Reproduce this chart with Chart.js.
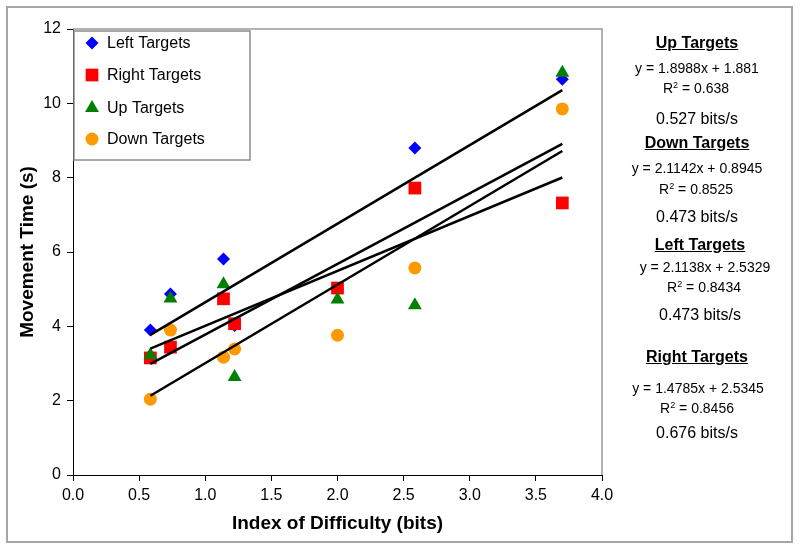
<!DOCTYPE html>
<html>
<head>
<meta charset="utf-8">
<script src="https://cdn.jsdelivr.net/npm/chart.js@4.4.0/dist/chart.umd.min.js"></script>
<style>
body { margin: 0; background: #fff; font-family: 'Liberation Sans', Arial, sans-serif; }
#wrap { position: relative; width: 800px; height: 549px; }
#frame { position: absolute; left: 6px; top: 6px; width: 787px; height: 537px; border: 2px solid #a6a6a6; box-sizing: border-box; pointer-events: none; }
.note { position: absolute; width: 200px; text-align: center; color: #000; white-space: nowrap; line-height: 1; }
.ttl { font-size: 16px; font-weight: bold; text-decoration: underline; }
.eq { font-size: 14px; }
.rate { font-size: 16px; }
sup { font-size: 9px; vertical-align: 5px; line-height: 0; }
</style>
</head>
<body>
<div id="wrap">
  <canvas id="myChart" width="800" height="549"></canvas>
  <div id="frame"></div>
</div>
<script>
// index of difficulty (bits) for the 7 conditions
const idBits = [0.585, 0.737, 1.138, 1.222, 2.0, 2.585, 3.70];

const leftTimes  = [3.90, 4.87, 5.81, 4.02, 5.00, 8.80, 10.65];
const rightTimes = [3.15, 3.44, 4.74, 4.07, 5.03, 7.72, 7.32];
const upTimes    = [3.23, 4.75, 5.13, 2.64, 4.72, 4.57, 10.82];
const downTimes  = [2.04, 3.90, 3.17, 3.39, 3.76, 5.57, 9.85];

const xTicks = [0, 0.5, 1, 1.5, 2, 2.5, 3, 3.5, 4];
const yTicks = [0, 2, 4, 6, 8, 10, 12];

// fit results shown on the right
const fitNames   = ['Up Targets', 'Down Targets', 'Left Targets', 'Right Targets'];
const slopes     = [1.8988, 2.1142, 2.1138, 1.4785];
const intercepts = ['1.881', '0.8945', '2.5329', '2.5345'];
const rSquared   = ['0.638', '0.8525', '0.8434', '0.8456'];
const rates      = ['0.527', '0.473', '0.473', '0.676'];

const fitX = [0.585, 3.70];

// where each text block sits (centre x, line centres y)
const noteLayout = [
  { cx: 697, eqx: 697, y: [43, 68, 88, 119] },
  { cx: 697, eqx: 697, y: [143, 168, 189, 217] },
  { cx: 700, eqx: 705, y: [245, 267, 287, 315] },
  { cx: 697, eqx: 698, y: [357, 388, 408, 433] }
];

const wrap = document.getElementById('wrap');
function addNote(cls, html, cx, cy, h) {
  const d = document.createElement('div');
  d.className = 'note ' + cls;
  d.innerHTML = html;
  d.style.left = (cx - 100) + 'px';
  d.style.top = (cy - h / 2) + 'px';
  wrap.appendChild(d);
}
fitNames.forEach((name, i) => {
  const L = noteLayout[i];
  addNote('ttl', name, L.cx, L.y[0], 16);
  addNote('eq', 'y = ' + slopes[i] + 'x + ' + intercepts[i], L.eqx, L.y[1], 14);
  addNote('eq', 'R<sup>2</sup> = ' + rSquared[i], L.eqx - 1, L.y[2], 14);
  addNote('rate', rates[i] + ' bits/s', L.cx, L.y[3], 16);
});

function pts(ys) { return idBits.map((x, i) => ({ x: x, y: ys[i] })); }
function fitLine(i) {
  const b = parseFloat(intercepts[i]);
  return fitX.map(x => ({ x: x, y: slopes[i] * x + b }));
}

const series = [
  { label: 'Left Targets',  data: pts(leftTimes),  color: '#0000ff', style: 'rectRot',  r: 6.5, order: 4 },
  { label: 'Right Targets', data: pts(rightTimes), color: '#ff0000', style: 'rect',     r: 9,   order: 3 },
  { label: 'Up Targets',    data: pts(upTimes),    color: '#008000', style: 'triangle', r: 8,   order: 2 },
  { label: 'Down Targets',  data: pts(downTimes),  color: '#ff9900', style: 'circle',   r: 6.5, order: 1 }
];

const datasets = series.map(s => ({
  label: s.label,
  data: s.data,
  showLine: false,
  pointStyle: s.style,
  pointRadius: s.r,
  pointHoverRadius: s.r,
  pointBackgroundColor: s.color,
  pointBorderColor: s.color,
  pointBorderWidth: 0,
  order: s.order
}));

// trend lines (Up, Down, Left, Right)
[0, 1, 2, 3].forEach(i => {
  datasets.push({
    label: 'fit ' + fitNames[i],
    data: fitLine(i),
    showLine: true,
    borderColor: '#000',
    borderWidth: 2.5,
    pointRadius: 0,
    order: 0
  });
});

const framePlugin = {
  id: 'framePlugin',
  beforeDatasetsDraw(chart) {
    const a = chart.chartArea, c = chart.ctx;
    c.save();
    c.strokeStyle = '#9a9a9a';
    c.lineWidth = 1.5;
    c.beginPath();
    c.moveTo(a.left, a.top);
    c.lineTo(a.right, a.top);
    c.lineTo(a.right, a.bottom);
    c.stroke();
    c.restore();
  },
  afterDraw(chart) {
    const c = chart.ctx;
    c.save();
    c.fillStyle = '#fff';
    c.fillRect(74, 31, 176, 129);
    c.strokeStyle = '#8c8c8c';
    c.lineWidth = 1.5;
    c.strokeRect(74, 31, 176, 129);
    c.font = '16px "Liberation Sans", Arial, sans-serif';
    c.textBaseline = 'middle';
    const rows = [43, 75, 108, 139];
    series.forEach((s, i) => {
      c.fillStyle = s.color;
      c.strokeStyle = s.color;
      Chart.helpers.drawPoint(c, { pointStyle: s.style, radius: s.r, borderWidth: 0 }, 92, rows[i]);
      c.fillStyle = '#000';
      c.fillText(s.label, 107, rows[i] + 1);
    });
    c.restore();
  }
};

new Chart(document.getElementById('myChart'), {
  type: 'scatter',
  data: { datasets: datasets },
  options: {
    responsive: false,
    animation: false,
    events: [],
    layout: { padding: { top: 29, right: 198, left: 0, bottom: 0 } },
    plugins: { legend: { display: false }, tooltip: { enabled: false } },
    scales: {
      x: {
        type: 'linear',
        min: 0, max: 4,
        afterBuildTicks: s => { s.ticks = xTicks.map(v => ({ value: v })); },
        afterFit: s => { s.height = 74; },
        ticks: { callback: v => Number(v).toFixed(1), font: { size: 16, family: '"Liberation Sans", Arial' }, color: '#000', padding: 5, maxRotation: 0 },
        grid: { drawOnChartArea: false, drawTicks: true, tickLength: 6, color: '#000' },
        border: { color: '#000', width: 1 },
        title: { display: true, text: 'Index of Difficulty (bits)', font: { size: 19, weight: 'bold', family: '"Liberation Sans", Arial' }, color: '#000', padding: { top: 0, bottom: 14 } }
      },
      y: {
        min: 0, max: 12,
        afterBuildTicks: s => { s.ticks = yTicks.map(v => ({ value: v })); },
        afterFit: s => { s.width = 73; },
        ticks: { font: { size: 16, family: '"Liberation Sans", Arial' }, color: '#000', padding: 6 },
        grid: { drawOnChartArea: false, drawTicks: true, tickLength: 6, color: '#000' },
        border: { color: '#000', width: 1 },
        title: { display: true, text: 'Movement Time (s)', font: { size: 19, weight: 'bold', family: '"Liberation Sans", Arial' }, color: '#000', padding: { top: 16, bottom: 0 } }
      }
    }
  },
  plugins: [framePlugin]
});
</script>
</body>
</html>
